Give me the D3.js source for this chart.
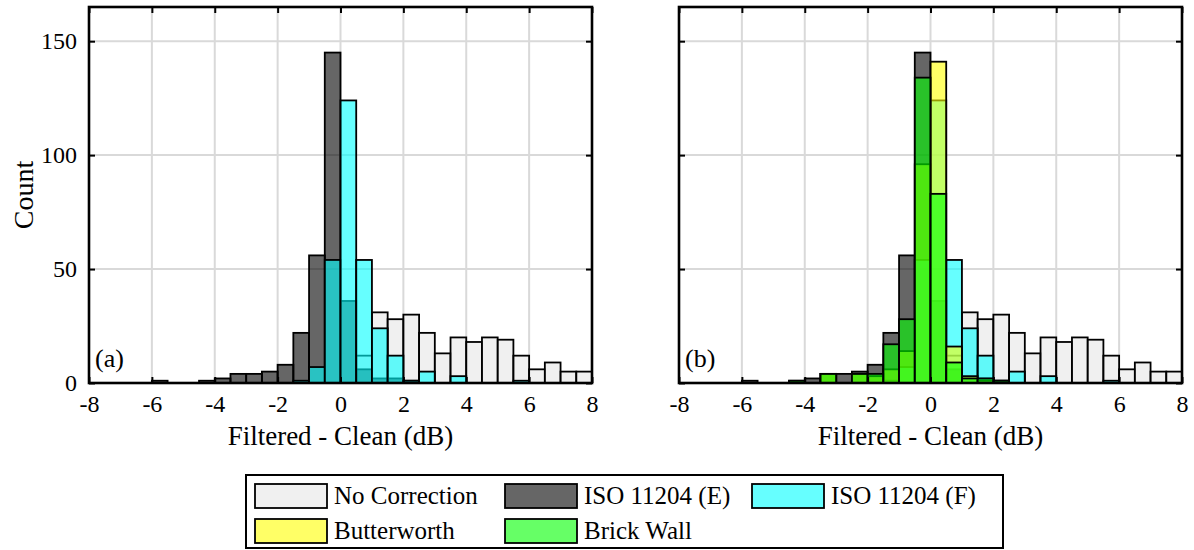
<!DOCTYPE html>
<html>
<head>
<meta charset="utf-8">
<script src="https://cdn.jsdelivr.net/npm/d3@7"></script>
<style>
  body { margin: 0; background: #fff; }
  svg { font-family: "Liberation Serif", "Times New Roman", serif; }
</style>
</head>
<body>
<svg id="chart" width="1194" height="550"></svg>
<script>
// bin left edges, 0.5 dB wide, -8 .. 7.5
var binEdges = d3.range(-8, 8, 0.5);

var noCorrection = [0,0,0,0,0,0,0,0,0,0,0,0,0,0,0,0,0,12,31,28,30,22,13,20,18,20,19,12,6,9,5,5];
var isoE        = [0,0,0,0,1,0,0,1,2,4,4,5,8,22,56,145,36,6,2,2,1,0,0,0,0,0,0,0,0,0,0,0];
var isoF        = [0,0,0,0,0,0,0,0,0,0,0,0,0,1,7,54,124,54,24,12,1,5,0,3,0,0,0,1,0,0,0,0];
var butterworth = [0,0,0,0,0,0,0,0,0,4,0,4,3,6,14,96,141,16,3,1,0,0,0,0,0,0,0,0,0,0,0,0];
var brickWall   = [0,0,0,0,0,0,0,1,0,4,0,4,4,17,28,134,83,9,2,2,1,0,0,0,0,0,0,0,0,0,0,0];

var xTicks = [-8, -6, -4, -2, 0, 2, 4, 6, 8];
var yTicks = [0, 50, 100, 150];

var series = [
  {name: "No Correction", values: noCorrection, color: "#e6e6e6"},
  {name: "ISO 11204 (E)", values: isoE, color: "#000000"},
  {name: "ISO 11204 (F)", values: isoF, color: "#00ffff"},
  {name: "Butterworth", values: butterworth, color: "#ffff00"},
  {name: "Brick Wall", values: brickWall, color: "#00ff00"}
];

var svg = d3.select("#chart");
var width = 503;
var height = 376;

var x = d3.scaleLinear().domain([-8, 8]).range([0, width]);
var y = d3.scaleLinear().domain([0, 165]).range([height, 0]);

function drawPanel(left, top, list, tag, showY) {
  var g = svg.append("g").attr("transform", "translate(" + left + "," + top + ")");

  // grid
  g.selectAll(".gx").data(xTicks).enter().append("line")
    .attr("x1", d => x(d)).attr("x2", d => x(d))
    .attr("y1", 0).attr("y2", height)
    .attr("stroke", "#d9d9d9").attr("stroke-width", 2);
  g.selectAll(".gy").data(yTicks).enter().append("line")
    .attr("x1", 0).attr("x2", width)
    .attr("y1", d => y(d)).attr("y2", d => y(d))
    .attr("stroke", "#d9d9d9").attr("stroke-width", 2);

  // histograms
  list.forEach(function (s) {
    g.append("g").selectAll("rect")
      .data(s.values.map((v, i) => ({x0: binEdges[i], v: v})).filter(d => d.v > 0))
      .enter().append("rect")
      .attr("x", d => x(d.x0))
      .attr("width", d => x(d.x0 + 0.5) - x(d.x0))
      .attr("y", d => y(d.v))
      .attr("height", d => y(0) - y(d.v))
      .attr("fill", s.color)
      .attr("fill-opacity", 0.6)
      .attr("stroke", "#000")
      .attr("stroke-width", 1.8);
  });

  // axes with inward ticks on all sides
  var fmt = d => String(d);
  var bottom = d3.axisBottom(x).tickValues(xTicks).tickSizeInner(-6).tickSizeOuter(0).tickPadding(12).tickFormat(fmt);
  var topAx = d3.axisTop(x).tickValues(xTicks).tickSizeInner(-6).tickSizeOuter(0).tickFormat("");
  var leftAx = d3.axisLeft(y).tickValues(yTicks).tickSizeInner(-6).tickSizeOuter(0).tickPadding(12).tickFormat(fmt);
  if (!showY) leftAx.tickFormat("");
  var rightAx = d3.axisRight(y).tickValues(yTicks).tickSizeInner(-6).tickSizeOuter(0).tickFormat("");

  var xb = g.append("g").attr("transform", "translate(0," + height + ")").call(bottom);
  g.append("g").call(topAx);
  g.append("g").call(leftAx);
  g.append("g").attr("transform", "translate(" + width + ",0)").call(rightAx);

  g.selectAll(".domain").remove();
  g.selectAll(".tick line").attr("stroke", "#000").attr("stroke-width", 2);
  g.selectAll(".tick text").attr("fill", "#000").style("font-size", "24px")
    .style("font-family", "Liberation Serif, serif");
  xb.selectAll(".tick text").attr("dy", "0.72em");

  g.append("rect")
    .attr("width", width).attr("height", height)
    .attr("fill", "none").attr("stroke", "#000").attr("stroke-width", 2.6);

  g.append("text")
    .attr("x", 6).attr("y", height - 16)
    .style("font-size", "26px")
    .text(tag);

  g.append("text")
    .attr("x", width / 2).attr("y", height + 62)
    .attr("text-anchor", "middle")
    .style("font-size", "27px")
    .text("Filtered - Clean (dB)");
}

drawPanel(89, 7, series.slice(0, 3), "(a)", true);
drawPanel(679, 7, series, "(b)", false);

svg.append("text")
  .attr("transform", "translate(33,195) rotate(-90)")
  .attr("text-anchor", "middle")
  .style("font-size", "28px")
  .text("Count");

// legend
var legend = svg.append("g");
legend.append("rect")
  .attr("x", 246).attr("y", 475).attr("width", 757).attr("height", 73)
  .attr("fill", "#fff").attr("stroke", "#000").attr("stroke-width", 2);

var legX = [255, 505, 752];
var legY = [484, 519];
series.forEach(function (s, i) {
  var col = i % 3, row = Math.floor(i / 3);
  legend.append("rect")
    .attr("x", legX[col]).attr("y", legY[row])
    .attr("width", 72).attr("height", 24)
    .attr("fill", s.color).attr("fill-opacity", 0.6)
    .attr("stroke", "#000").attr("stroke-width", 1.8);
  legend.append("text")
    .attr("x", legX[col] + 79).attr("y", legY[row] + 20)
    .style("font-size", "25px")
    .text(s.name);
});
</script>
</body>
</html>
